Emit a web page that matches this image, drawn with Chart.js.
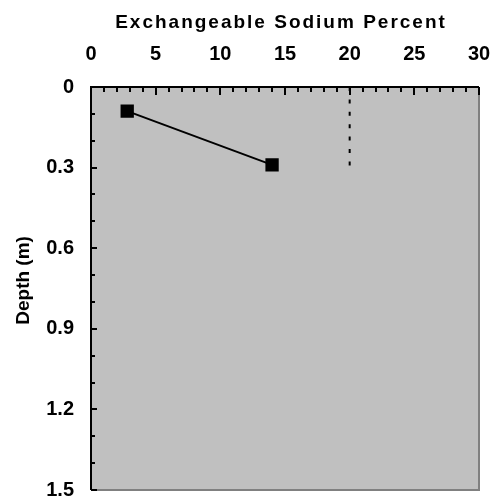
<!DOCTYPE html>
<html>
<head>
<meta charset="utf-8">
<script src="https://cdn.jsdelivr.net/npm/chart.js@4.4.0/dist/chart.umd.min.js"></script>
<style>
  html, body { margin: 0; padding: 0; background: #fff; }
  #wrap { width: 497px; height: 501px; }
</style>
</head>
<body>
<div id="wrap"><canvas id="esp-chart"></canvas></div>
<script>
  // ESP profile: exchangeable sodium percent against sample depth
  var espValues = [2.8, 14];
  var depthValues = [0.09, 0.29];

  // reference line at ESP 20 over the top 0.3 m
  var thresholdEsp = [20, 20];
  var thresholdDepth = [0, 0.3];

  var espTicks = [0, 5, 10, 15, 20, 25, 30];
  var depthTicks = [0, 0.3, 0.6, 0.9, 1.2, 1.5];

  var fontFamily = 'Liberation Sans, Arial, sans-serif';
  var tickFont = { family: fontFamily, size: 20, weight: 'bold' };

  function toPoints(xs, ys) {
    return xs.map(function (x, i) { return { x: x, y: ys[i] }; });
  }

  // grey plot area, frame, inward tick marks and both axis titles
  var frame = {
    id: 'frame',
    beforeDatasetsDraw: function (chart) {
      var a = chart.chartArea, ctx = chart.ctx;
      ctx.save();
      ctx.fillStyle = '#c0c0c0';
      ctx.fillRect(a.left, a.top, a.right - a.left, a.bottom - a.top);
      ctx.restore();
    },
    afterDatasetsDraw: function (chart) {
      var a = chart.chartArea, ctx = chart.ctx;
      var xs = chart.scales.x, ys = chart.scales.y;
      ctx.save();
      ctx.lineWidth = 2;
      ctx.strokeStyle = '#808080';
      ctx.beginPath();
      ctx.moveTo(a.right, a.top);
      ctx.lineTo(a.right, a.bottom);
      ctx.lineTo(a.left, a.bottom);
      ctx.stroke();
      ctx.strokeStyle = '#000';
      ctx.beginPath();
      ctx.moveTo(a.left, a.bottom);
      ctx.lineTo(a.left, a.top);
      ctx.lineTo(a.right, a.top);
      ctx.stroke();

      ctx.beginPath();
      for (var v = espTicks[0]; v <= espTicks[espTicks.length - 1]; v += 1) {
        var px = Math.round(xs.getPixelForValue(v));
        var len = v % 5 === 0 ? 8 : 5;
        ctx.moveTo(px, a.top);
        ctx.lineTo(px, a.top + len);
      }
      for (var i = 0; i <= 15; i++) {
        var py = Math.round(ys.getPixelForValue(i / 10));
        var ylen = i % 3 === 0 ? 6 : 4;
        ctx.moveTo(a.left, py);
        ctx.lineTo(a.left + ylen, py);
      }
      ctx.stroke();

      ctx.fillStyle = '#000';
      ctx.textAlign = 'center';

      // top title, slightly letter-spaced
      ctx.save();
      ctx.letterSpacing = '2px';
      ctx.font = 'bold 19px ' + fontFamily;
      ctx.textBaseline = 'alphabetic';
      ctx.fillText('Exchangeable Sodium Percent', (a.left + a.right) / 2 - 4, 28);
      ctx.restore();

      // depth title, rotated, a little above the middle of the axis
      ctx.translate(24, ys.getPixelForValue(0.72));
      ctx.rotate(-Math.PI / 2);
      ctx.font = 'bold 19px ' + fontFamily;
      ctx.textBaseline = 'middle';
      ctx.fillText('Depth (m)', 0, 0);
      ctx.restore();
    }
  };

  new Chart(document.getElementById('esp-chart'), {
    type: 'scatter',
    data: {
      datasets: [
        {
          data: toPoints(espValues, depthValues),
          showLine: true,
          borderColor: '#000',
          borderWidth: 2,
          backgroundColor: '#000',
          pointStyle: 'rect',
          pointRadius: 8,
          pointHoverRadius: 8
        },
        {
          data: toPoints(thresholdEsp, thresholdDepth),
          showLine: true,
          borderColor: '#000',
          borderWidth: 2,
          borderDash: [4, 8.4],
          pointRadius: 0
        }
      ]
    },
    options: {
      responsive: true,
      maintainAspectRatio: false,
      animation: false,
      layout: { padding: { top: 0, right: 18, bottom: 11, left: 0 } },
      plugins: { legend: { display: false }, tooltip: { enabled: false } },
      scales: {
        x: {
          type: 'linear',
          position: 'top',
          min: 0,
          max: 30,
          grid: { display: false, drawTicks: false },
          border: { display: false },
          afterBuildTicks: function (scale) {
            scale.ticks = espTicks.map(function (v) { return { value: v }; });
          },
          afterFit: function (scale) {
            scale.height = 87;
            scale.paddingLeft = 0;
            scale.paddingRight = 0;
          },
          ticks: {
            color: '#000',
            font: tickFont,
            padding: 21,
            maxRotation: 0,
            autoSkip: false
          }
        },
        y: {
          type: 'linear',
          reverse: true,
          min: 0,
          max: 1.5,
          grid: { display: false, drawTicks: false },
          border: { display: false },
          afterBuildTicks: function (scale) {
            scale.ticks = depthTicks.map(function (v) { return { value: v }; });
          },
          afterFit: function (scale) {
            scale.width = 91;
            scale.paddingTop = 0;
            scale.paddingBottom = 0;
          },
          ticks: {
            color: '#000',
            font: tickFont,
            padding: 17,
            autoSkip: false,
            callback: function (v) { return v === 0 ? '0' : v.toFixed(1); }
          }
        }
      }
    },
    plugins: [frame]
  });
</script>
</body>
</html>
